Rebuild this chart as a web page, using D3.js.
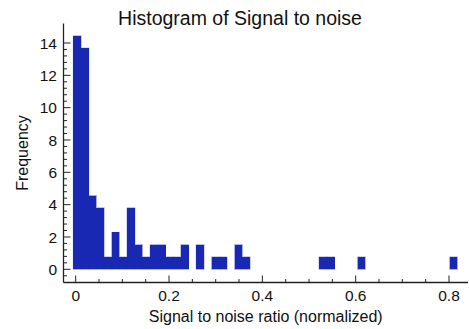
<!DOCTYPE html>
<html>
<head>
<meta charset="utf-8">
<script src="https://cdn.jsdelivr.net/npm/d3@7"></script>
<style>
  html, body { margin: 0; padding: 0; background: #fff; }
  svg { display: block; }
  text { font-family: "Liberation Sans", Arial, Helvetica, sans-serif; fill: #111; }
</style>
</head>
<body>
<svg id="chart" width="469" height="329"></svg>
<script>
// ---- data ----
const title = "Histogram of Signal to noise";
const xLabel = "Signal to noise ratio (normalized)";
const yLabel = "Frequency";
const binStart = -0.005;      // left edge of first bin
const binWidth = 0.01646;     // bin width
const frequencies = [
  14.44, 13.68, 4.56, 3.80, 0.76, 2.28, 0.76, 3.80, 1.52, 0.76,
  1.52, 1.52, 0.76, 0.76, 1.52, 0, 1.52, 0, 0.76, 0.76,
  0, 1.52, 0.76, 0, 0, 0, 0, 0, 0, 0,
  0, 0, 0.76, 0.76, 0, 0, 0, 0.76, 0, 0,
  0, 0, 0, 0, 0, 0, 0, 0, 0, 0.76
];
const xTicks = [0, 0.2, 0.4, 0.6, 0.8];
const xTickLabels = ["0", "0.2", "0.4", "0.6", "0.8"];
const yTicks = [0, 2, 4, 6, 8, 10, 12, 14];

// ---- scales ----
const svg = d3.select("#chart");
const axisLeft = 63.5, axisRight = 468, axisBottom = 282.5, axisTop = 23.5;
const x = d3.scaleLinear().domain([0, 0.8]).range([75.7, 449]);
const y = d3.scaleLinear().domain([0, 14]).range([269.3, 43]);

const bins = frequencies.map((f, i) => ({
  x0: binStart + i * binWidth,
  x1: binStart + (i + 1) * binWidth,
  f
})).filter(d => d.f > 0);

// ---- bars ----
const barG = svg.append("g");
// soft light outline behind, then solid fill on top
barG.selectAll("rect.edge").data(bins).join("rect").attr("class", "edge")
  .attr("x", d => x(d.x0) - 0.5)
  .attr("width", d => x(d.x1) - x(d.x0) + 1)
  .attr("y", d => y(d.f) - 0.5)
  .attr("height", d => y(0) - y(d.f) + 1)
  .attr("fill", "#9aa2e2");
barG.selectAll("rect.bar").data(bins).join("rect").attr("class", "bar")
  .attr("x", d => x(d.x0))
  .attr("width", d => x(d.x1) - x(d.x0))
  .attr("y", d => y(d.f))
  .attr("height", d => y(0) - y(d.f))
  .attr("shape-rendering", "crispEdges")
  .attr("fill", "#1828b2");

// ---- axes ----
const axisColor = "#222";
const gx = svg.append("g");
gx.append("line").attr("x1", axisLeft).attr("x2", axisRight)
  .attr("y1", axisBottom).attr("y2", axisBottom)
  .attr("stroke", axisColor).attr("stroke-width", 1.3);
const xMinor = d3.range(0.05, 0.84, 0.05).filter(v => !xTicks.some(t => Math.abs(t - v) < 1e-6));
gx.selectAll("line.minor").data(xMinor).join("line").attr("class", "minor")
  .attr("x1", d => x(d)).attr("x2", d => x(d))
  .attr("y1", axisBottom).attr("y2", axisBottom - 3.5)
  .attr("stroke", axisColor).attr("stroke-width", 1);
gx.selectAll("line.major").data(xTicks).join("line").attr("class", "major")
  .attr("x1", d => x(d)).attr("x2", d => x(d))
  .attr("y1", axisBottom).attr("y2", axisBottom - 7)
  .attr("stroke", axisColor).attr("stroke-width", 1);
gx.selectAll("text").data(xTicks).join("text")
  .attr("x", d => x(d)).attr("y", 300.5)
  .attr("text-anchor", "middle")
  .attr("font-size", 15.5)
  .text((d, i) => xTickLabels[i]);

const gy = svg.append("g");
gy.append("line").attr("x1", axisLeft).attr("x2", axisLeft)
  .attr("y1", axisTop).attr("y2", axisBottom)
  .attr("stroke", axisColor).attr("stroke-width", 1.3);
const yMinor = d3.range(-0.4, 14.01, 0.4).filter(v => !yTicks.some(t => Math.abs(t - v) < 1e-6));
gy.selectAll("line.minor").data(yMinor).join("line").attr("class", "minor")
  .attr("x1", axisLeft).attr("x2", axisLeft + 3.5)
  .attr("y1", d => y(d)).attr("y2", d => y(d))
  .attr("stroke", axisColor).attr("stroke-width", 1);
gy.selectAll("line.major").data(yTicks).join("line").attr("class", "major")
  .attr("x1", axisLeft).attr("x2", axisLeft + 7)
  .attr("y1", d => y(d)).attr("y2", d => y(d))
  .attr("stroke", axisColor).attr("stroke-width", 1);
gy.selectAll("text").data(yTicks).join("text")
  .attr("x", 57).attr("y", d => y(d))
  .attr("dy", "0.36em")
  .attr("text-anchor", "end")
  .attr("font-size", 15.5)
  .text(d => d);

// ---- labels ----
svg.append("text").attr("x", 240).attr("y", 25)
  .attr("text-anchor", "middle").attr("font-size", 19.5).text(title);
svg.append("text").attr("x", (axisLeft + axisRight) / 2).attr("y", 322)
  .attr("text-anchor", "middle").attr("font-size", 16).text(xLabel);
svg.append("text")
  .attr("transform", `translate(28,${(axisTop + axisBottom) / 2}) rotate(-90)`)
  .attr("text-anchor", "middle").attr("font-size", 16).text(yLabel);
</script>
</body>
</html>
